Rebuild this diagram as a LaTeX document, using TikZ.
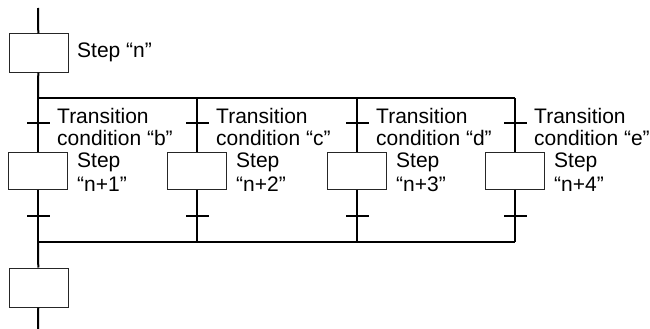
\documentclass[tikz,border=0pt]{standalone}
\usepackage{fontspec}
\setmainfont{Liberation Sans}
\begin{document}
\begin{tikzpicture}[x=1pt,y=-1pt,
  stepbox/.style={draw=black!85,line width=1pt,minimum width=59pt,minimum height=37pt,inner sep=0pt},
  flow/.style={line width=2pt},
  tick/.style={line width=1.6pt},
  lbl/.style={anchor=north west,inner sep=0pt,align=left,font=\fontsize{21}{22}\selectfont},
  slbl/.style={anchor=north west,inner sep=0pt,align=left,font=\fontsize{21}{24}\selectfont}]
\useasboundingbox (0,0) rectangle (650,329);
% top
\coordinate (top) at (38,8);
\node[stepbox,minimum height=38pt] (n) at (38.5,53) {};
\node[slbl] (ln) at (77,42.7) {Step “n”};
\draw[flow] (top) -- (n);
% divergence bar
\coordinate (j1) at (38,98);
\coordinate (j2) at (197,98);
\coordinate (j3) at (357,98);
\coordinate (j4) at (515,98);
\draw[flow] (n) -- (j1);
\draw[flow] (j1) -- (j4);
% convergence bar
\coordinate (b1) at (38,242);
\coordinate (b2) at (197,242);
\coordinate (b3) at (357,242);
\coordinate (b4) at (515,242);
\draw[flow] (b1) -- (b4);
% branches
\foreach \i/\x/\c/\s in {1/38/b/n+1, 2/197/c/n+2, 3/357/d/n+3, 4/515/e/n+4}{
  \node[stepbox] (s\i) at (\x,170.5) {};
  \coordinate (t\i) at (\x,123);
  \coordinate (u\i) at (\x,216);
  \draw[flow] (j\i) -- (s\i);
  \draw[flow] (s\i) -- (b\i);
  \draw[tick] ([xshift=-11pt]t\i) -- ([xshift=12pt]t\i);
  \draw[tick] ([xshift=-11pt]u\i) -- ([xshift=12pt]u\i);
  \node[lbl] (lt\i) at (\x+19,108) {Transition\\condition “\c”};
  \node[slbl] (ls\i) at (\x+39,152.7) {Step\\“\s”};
}
% final step
\node[stepbox,minimum height=39pt] (f) at (38.5,287.5) {};
\coordinate (end) at (38,329);
\draw[flow] (b1) -- (f);
\draw[flow] (f) -- (end);
\end{tikzpicture}
\end{document}
